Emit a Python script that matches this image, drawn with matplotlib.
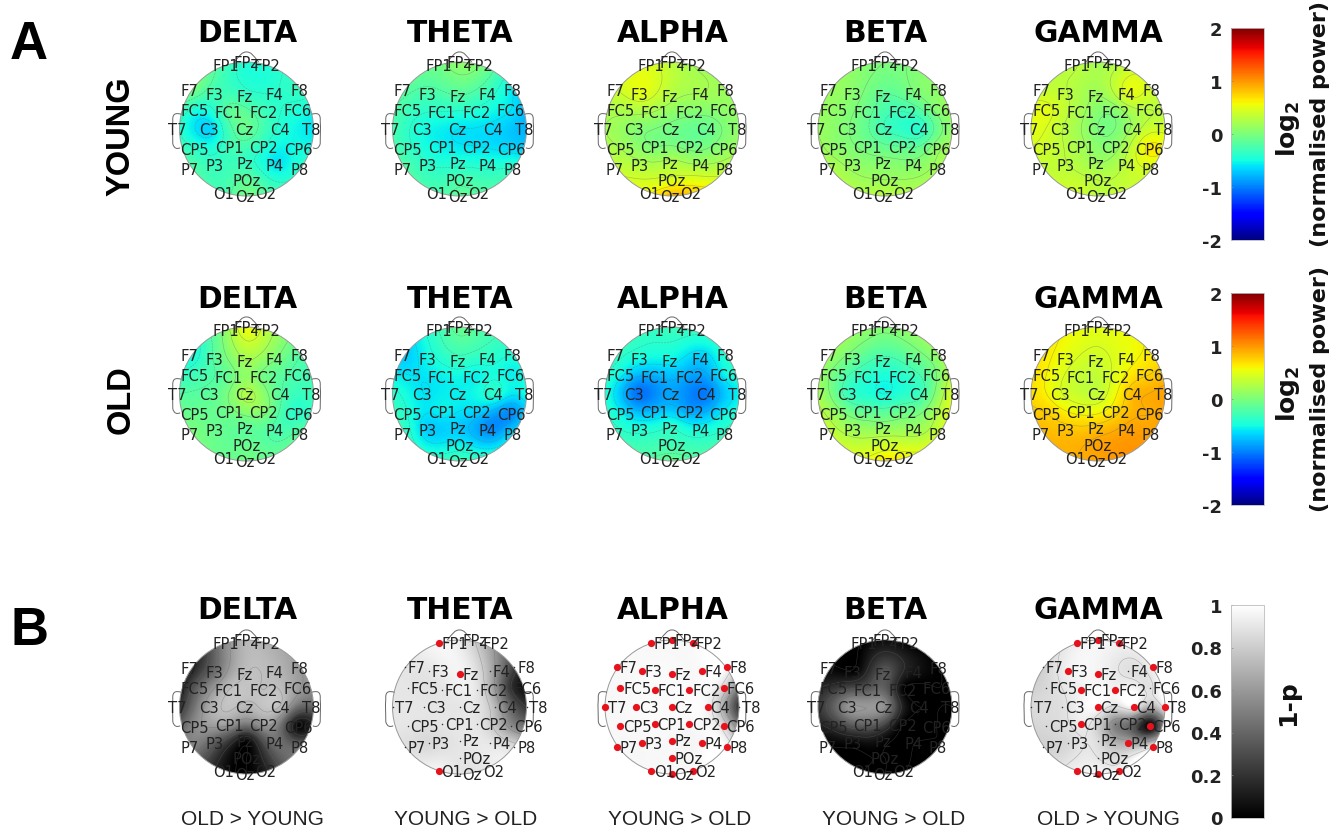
import numpy as np
import matplotlib
matplotlib.use("Agg")
import matplotlib.pyplot as plt
from matplotlib.patches import Circle, PathPatch
from matplotlib.path import Path
from matplotlib.cm import ScalarMappable
from matplotlib.colors import Normalize

plt.rcParams['mathtext.fontset'] = 'dejavusans'

BANDS = ['DELTA', 'THETA', 'ALPHA', 'BETA', 'GAMMA']
ELECTRODES = ['FP1','FPz','FP2','F7','F3','Fz','F4','F8','FC5','FC1','FC2','FC6','T7','C3','Cz','C4','T8',
              'CP5','CP1','CP2','CP6','P7','P3','Pz','P4','P8','POz','O1','Oz','O2']
ELEC_X = [-.31,0,.31,-.82,-.45,0,.45,.82,-.77,-.26,.26,.77,-1.0,-.53,0,.53,1.0,
          -.77,-.26,.26,.77,-.82,-.45,0,.45,.82,0,-.31,0,.31]
ELEC_Y = [.955,1.0,.955,.59,.53,.50,.53,.59,.29,.26,.26,.29,0,0,0,0,0,
          -.29,-.26,-.26,-.29,-.59,-.53,-.50,-.53,-.59,-.76,-.955,-1.0,-.955]

YOUNG_DELTA = [-.3,-.45,-.45,0,-.3,-.35,-.4,-.35,-.45,-.15,-.3,-.45,-.4,-.65,-.1,-.45,-.6,
               -.4,-.3,-.4,-.5,-.2,-.35,-.35,-.6,-.4,-.15,-.25,-.05,-.2]
YOUNG_THETA = [-.05,.1,0,-.15,-.25,-.2,-.35,-.6,-.3,-.4,-.45,-.6,-.25,-.5,-.6,-.65,-.8,
               -.35,-.55,-.6,-.65,-.2,-.4,-.45,-.45,-.4,-.25,-.25,-.15,-.2]
YOUNG_ALPHA = [.45,.3,.2,.4,.5,.25,.2,.15,.25,.2,.05,.1,.2,.05,-.05,-.1,.1,
               .2,0,-.05,.1,.35,.25,.25,.2,.3,.45,.6,.85,.75]
YOUNG_BETA = [.05,0,0,.15,.05,-.15,0,.1,.1,-.1,-.3,.05,.15,0,-.3,-.4,.1,
              .1,-.05,-.15,.1,.25,.1,.05,.05,.2,.15,.25,.3,.25]
YOUNG_GAMMA = [.3,.2,.3,.35,.3,.15,.5,.4,.5,.2,.05,.3,.5,.3,0,.2,.4,
               .4,.2,.1,.65,.35,.3,.15,.35,.45,.3,.4,.3,.35]
OLD_DELTA = [.1,.55,.3,-.5,-.15,.2,0,-.2,-.3,-.1,-.05,-.25,-.2,-.15,.25,-.2,-.3,
             -.1,-.05,.05,-.4,0,-.1,-.15,-.25,-.15,-.1,-.1,-.05,-.1]
OLD_THETA = [-.3,-.1,-.2,-.7,-.5,-.35,-.4,-.45,-.6,-.55,-.55,-.55,-.4,-.6,-.55,-.4,-.5,
             -.45,-.55,-.65,-.95,-.35,-.7,-.7,-.95,-.6,-.55,-.4,-.3,-.4]
OLD_ALPHA = [-.35,-.3,-.35,-.35,-.5,-.55,-.7,-.4,-.55,-.8,-.85,-.55,-.45,-1.05,-.85,-1.0,-.55,
             -.55,-.75,-.85,-.55,-.35,-.45,-.4,-.5,-.35,-.3,-.2,-.1,-.2]
OLD_BETA = [.1,.05,.1,.15,-.1,-.3,-.1,.15,-.05,-.4,-.4,0,.2,-.35,-.5,-.3,.45,
            .15,-.15,-.1,.25,.35,.15,.1,.15,.4,.4,.5,.65,.6]
OLD_GAMMA = [.55,.5,.55,.65,.5,.4,.55,.65,.6,.35,.5,.75,.7,.45,.35,.85,.95,
             .75,.55,.7,.9,.85,.8,.8,.95,.95,.95,.9,.95,1.0]

P_DELTA = [.55,.72,.7,.12,.45,.75,.72,.6,.35,.75,.75,.62,.2,.68,.72,.72,.4,
           .55,.62,.62,.03,.5,.35,.05,.45,.4,0,.05,0,.15]
P_THETA = [.97,.92,.75,.9,.9,.96,.7,.25,.9,.9,.9,.2,.9,.9,.9,.72,.2,
           .9,.9,.9,.55,.88,.85,.9,.9,.85,.9,.96,.9,.9]
P_ALPHA = [.97,.97,.97,.97,.98,.98,.98,.97,.97,.98,.98,.85,.97,.98,.98,.95,.2,
           .97,.98,.97,.85,.97,.97,.97,.97,.97,.97,.97,.97,.97]
P_BETA = [.02,.05,.02,.02,.02,.35,.08,0,.2,.35,.02,0,.22,.6,.55,0,0,
          .2,.4,0,0,0,.05,.03,0,0,0,0,0,0]
P_GAMMA = [.95,.97,.95,.82,.95,.96,.88,.95,.85,.95,.95,.88,.85,.88,.98,.97,.95,
           .85,.93,.5,.02,.82,.85,.85,.65,.9,.9,.95,.97,.95]

SIG_THETA = ['FP1','Fz','O1']
SIG_ALPHA = [e for e in ELECTRODES if e != 'T8']
SIG_GAMMA = ['FP1','FPz','FP2','F3','Fz','F8','FC1','FC2','Cz','C4','T8','CP1','CP6','P4','P8','O1','Oz','O2']
CONTRASTS = ['OLD > YOUNG','YOUNG > OLD','YOUNG > OLD','YOUNG > OLD','OLD > YOUNG']

W, H = 1331, 828
COL_X = [246.5, 459.5, 672, 885, 1098]
R_PX = 67.0
fig = plt.figure(figsize=(W/100, H/100), dpi=100, facecolor='white')

def ax_px(x0, y0, x1, y1, **kw):
    return fig.add_axes([x0/W, 1-y1/H, (x1-x0)/W, (y1-y0)/H], **kw)

def ftext(x, y, s, **kw):
    return fig.text(x/W, 1-y/H, s, **kw)

ex, ey = np.array(ELEC_X), np.array(ELEC_Y)

def biharmonic(vals, gx, gy):
    px = ex*1.0; py = ey*1.0
    d = np.hypot(px[:,None]-px[None,:], py[:,None]-py[None,:])
    with np.errstate(divide='ignore', invalid='ignore'):
        G = np.where(d > 0, d**2*(np.log(d)-1), 0.0)
    A = np.zeros((len(px)+3, len(px)+3))
    A[:len(px), :len(px)] = G
    P = np.c_[np.ones_like(px), px, py]
    A[:len(px), len(px):] = P
    A[len(px):, :len(px)] = P.T
    b = np.r_[np.asarray(vals, float), 0, 0, 0]
    w = np.linalg.solve(A, b)
    dg = np.hypot(gx[...,None]-px, gy[...,None]-py)
    with np.errstate(divide='ignore', invalid='ignore'):
        Gg = np.where(dg > 0, dg**2*(np.log(dg)-1), 0.0)
    return (Gg*w[:len(px)]).sum(-1) + w[len(px)] + w[len(px)+1]*gx + w[len(px)+2]*gy

def head(cx, cy, vals, cmap, vmin, vmax, sig=None):
    half = 100.0
    ax = ax_px(cx-half, cy-half, cx+half, cy+half)
    ax.axis('off'); ax.patch.set_alpha(0)
    g = np.linspace(-1.02, 1.02, 121)
    gx, gy = np.meshgrid(g, g)
    z = biharmonic(vals, gx, gy)
    im = ax.imshow(z, extent=[-1.02,1.02,-1.02,1.02], origin='lower', cmap=cmap, vmin=vmin, vmax=vmax,
                   interpolation='bilinear', zorder=1, aspect='auto')
    ax.set_xlim(-half/R_PX, half/R_PX); ax.set_ylim(-half/R_PX, half/R_PX)
    clip = Circle((0,0), 1.0, transform=ax.transData)
    im.set_clip_path(clip)
    cs = ax.contour(gx, gy, z, levels=5, colors='#666666', linewidths=0.4, alpha=0.45, zorder=2)
    cs.set_clip_path(clip)
    ax.add_patch(Circle((0,0), 1.0, fill=False, ec='#999999', lw=0.7, zorder=3))
    nose = Path([(-.18,1.0),(-.10,1.10),(-.07,1.15),(0,1.15),(.07,1.15),(.10,1.10),(.18,1.0)],
                [Path.MOVETO]+[Path.CURVE4]*6)
    ax.add_patch(PathPatch(nose, fill=False, ec='#666666', lw=0.7, zorder=3))
    for s in (-1, 1):
        ear = Path([(s*.97,.22),(s*1.05,.24),(s*1.11,.24),(s*1.10,.12),(s*1.11,.0),(s*1.10,-.10),(s*1.10,-.22),
                    (s*1.08,-.30),(s*1.03,-.30),(s*.99,-.28)],
                   [Path.MOVETO]+[Path.CURVE4]*9)
        ax.add_patch(PathPatch(ear, fill=False, ec='#666666', lw=0.7, zorder=3))
    for name, x, y in zip(ELECTRODES, ex, ey):
        if sig is None:
            dx = (-2 if len(name) == 2 else 0)/R_PX
            ax.text(x+dx, y-0.8/R_PX, name, ha='center', va='center', fontsize=10.6, color='#222222', zorder=6)
        else:
            ax.text(x+2.6/R_PX, y-0.5/R_PX, name, ha='left', va='center', fontsize=10.6, color='#222222', zorder=6)
            if name in sig:
                ax.scatter([x],[y], s=27, c='#e8121c', linewidths=0, zorder=5)
            else:
                ax.scatter([x],[y], s=1.2, c='#333333', linewidths=0, zorder=5)

def colorbar(y0, y1, cmap, vmin, vmax, ticks, labels):
    cax = ax_px(1230.5, y0, 1264, y1)
    cb = fig.colorbar(ScalarMappable(Normalize(vmin, vmax), cmap), cax=cax)
    cb.set_ticks(ticks); cb.set_ticklabels(labels)
    cax.yaxis.set_ticks_position('left')
    cax.tick_params(axis='y', length=1.5, width=0.5, direction='in', pad=6, color='#888888', labelsize=13, labelcolor='#222222')
    for t in cax.get_yticklabels():
        t.set_fontweight('bold')
    cb.outline.set_edgecolor('#bbbbbb'); cb.outline.set_linewidth(0.6)

ROW_Y = [130, 395, 708]
TITLE_Y = [33, 299, 611]
YOUNG = [YOUNG_DELTA, YOUNG_THETA, YOUNG_ALPHA, YOUNG_BETA, YOUNG_GAMMA]
OLD = [OLD_DELTA, OLD_THETA, OLD_ALPHA, OLD_BETA, OLD_GAMMA]
PVAL = [P_DELTA, P_THETA, P_ALPHA, P_BETA, P_GAMMA]
SIG = [None, SIG_THETA, SIG_ALPHA, None, SIG_GAMMA]
LABEL_X = [252, 466, 680, 894, 1108]

for i, band in enumerate(BANDS):
    head(COL_X[i], ROW_Y[0], YOUNG[i], 'jet', -2, 2)
    head(COL_X[i], ROW_Y[1], OLD[i], 'jet', -2, 2)
    head(COL_X[i], ROW_Y[2], PVAL[i], 'gray', 0, 1, SIG[i])
    for ty in TITLE_Y:
        ftext(COL_X[i]+0.5, ty, band, ha='center', va='center', fontsize=21.4, fontweight='bold', color='black')
    ftext(LABEL_X[i], 820, CONTRASTS[i], ha='center', va='center', fontsize=15,
          family='Liberation Sans', color='#222222')

colorbar(29, 241, 'jet', -2, 2, [-2,-1,0,1,2], ['-2','-1','0','1','2'])
colorbar(294, 506, 'jet', -2, 2, [-2,-1,0,1,2], ['-2','-1','0','1','2'])
colorbar(606, 818.5, 'gray', 0, 1, [0,.2,.4,.6,.8,1], ['0','0.2','0.4','0.6','0.8','1'])

for cy in (129, 394):
    ftext(1288, cy, r'$\mathbf{log_2}$', rotation=90, ha='center', va='center', fontsize=18, color='#111111')
    ftext(1320, cy-5, '(normalised power)', rotation=90, ha='center', va='center', fontsize=16, fontweight='bold', color='#111111')
ftext(1288, 703, '1-p', rotation=90, ha='center', va='center', fontsize=18, fontweight='bold', color='#111111')

ftext(29, 45, 'A', ha='center', va='center', fontsize=38, fontweight='bold', family='Liberation Sans', color='black')
ftext(29, 631, 'B', ha='center', va='center', fontsize=38, fontweight='bold', family='Liberation Sans', color='black')
ftext(121, 136, 'YOUNG', rotation=90, ha='center', va='center', fontsize=23.5, fontweight='bold', family='Liberation Sans', color='black')
ftext(121, 400, 'OLD', rotation=90, ha='center', va='center', fontsize=23.5, fontweight='bold', family='Liberation Sans', color='black')

fig.savefig('out.png', dpi=100, facecolor='white')
